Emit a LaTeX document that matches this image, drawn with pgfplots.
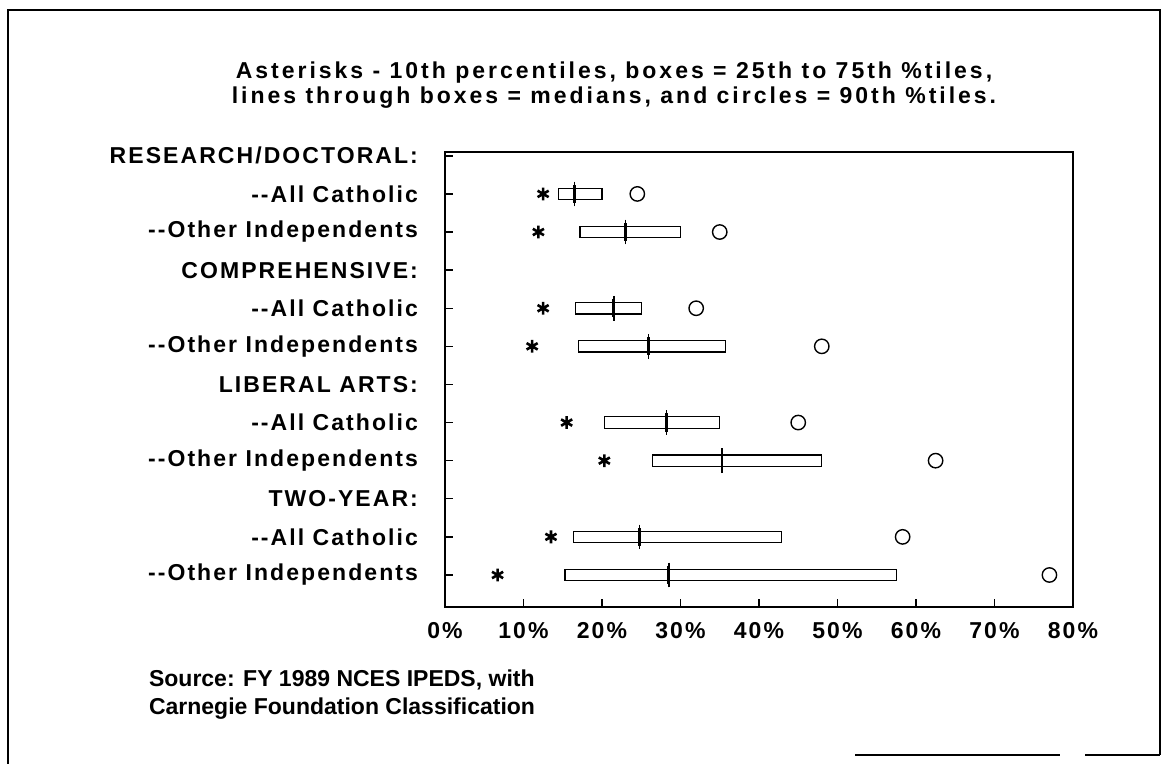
\documentclass[border=0pt]{standalone}
\usepackage{pgfplots}
\pgfplotsset{compat=1.18}
\usepgfplotslibrary{statistics}
\usepackage{pgfplotstable}
\usepackage{fontspec}
\setmainfont{Liberation Sans}
\newfontfamily\lblfont[LetterSpace=9]{Liberation Sans}
\newfontfamily\ttlfont[LetterSpace=13]{Liberation Sans}

% rows: 11 = top (RESEARCH/DOCTORAL:) ... 0 = bottom
\pgfplotstableread{
y   p10  q1   med  q3   p90
10  12.5 14.5 16.5 20.0 24.5
9   11.9 17.2 23.0 30.0 35.0
7   12.5 16.6 21.5 25.0 32.0
6   11.1 17.0 25.9 35.7 48.0
4   15.5 20.3 28.2 35.0 45.0
3   20.3 26.4 35.3 48.0 62.5
1   13.5 16.4 24.8 42.9 58.3
0    6.7 15.3 28.5 57.5 77.0
}\stats

\newcommand{\lbl}{\lblfont\bfseries\fontsize{11.5}{14}\selectfont}
\newcommand{\ttl}{\ttlfont\bfseries\fontsize{11.5}{12.5}\selectfont}
\newcommand{\src}{\bfseries\fontsize{11.5}{14}\selectfont}

\begin{document}
\begin{tikzpicture}
\begin{axis}[
    scale only axis,
    width=314pt, height=227.5pt,
    xmin=0, xmax=80,
    ymin=-0.84, ymax=11.1,
    xtick={0,10,...,80},
    xticklabel={\pgfmathprintnumber{\tick}\%},
    ytick={0,...,11},
    yticklabels={-{}-Other Independents, -{}-All Catholic, TWO-YEAR:,
                 -{}-Other Independents, -{}-All Catholic, LIBERAL ARTS:,
                 -{}-Other Independents, -{}-All Catholic, COMPREHENSIVE:,
                 -{}-Other Independents, -{}-All Catholic, RESEARCH/DOCTORAL:},
    xtick pos=bottom, ytick pos=left,
    tick align=inside,
    major tick length=4pt,
    tick style={black, line width=0.7pt},
    axis line style={line width=0.7pt},
    ticklabel style={font=\lbl},
    xticklabel style={yshift=-4pt},
    yticklabel style={xshift=-10pt},
    /pgf/number format/assume math mode=true,
    boxplot/draw direction=x,
    boxplot/box extend=0.3,
    boxplot/whisker extend=0,
    boxplot/every whisker/.style={draw=none},
    boxplot/every median/.style={draw=none},
]
% boxes (25th to 75th percentiles)
\pgfplotsinvokeforeach{0,...,7}{
  \pgfplotstablegetelem{#1}{y}\of\stats \let\yy\pgfplotsretval
  \pgfplotstablegetelem{#1}{q1}\of\stats \let\qa\pgfplotsretval
  \pgfplotstablegetelem{#1}{med}\of\stats \let\md\pgfplotsretval
  \pgfplotstablegetelem{#1}{q3}\of\stats \let\qb\pgfplotsretval
  \edef\tmp{\noexpand\addplot[black, line width=0.6pt, solid,
    boxplot prepared={draw position=\yy, lower whisker=\qa,
      lower quartile=\qa, median=\md, upper quartile=\qb,
      upper whisker=\qb}] coordinates {};}
  \tmp
}
% medians
\addplot[draw=none, mark=none,
  error bars/.cd, y dir=both, y fixed=0.24,
  error mark=-, error mark options={draw=black, mark size=1.6pt, line width=0.8pt},
  error bar style={draw=black, line width=1.4pt}]
  table[x=med, y=y] {\stats};
% 10th percentiles
\addplot[black, only marks, mark=asterisk, mark size=3.2pt,
  mark options={line width=1.3pt}] table[x=p10, y=y] {\stats};
% 90th percentiles
\addplot[black, only marks, mark=o, mark size=3.6pt,
  mark options={line width=0.7pt}] table[x=p90, y=y] {\stats};
\end{axis}

% page size and scanned frame
\path (-222.5pt,-78.5pt) rectangle (361.5pt,303.5pt);
\draw[line width=0.9pt] (-218.5pt,-78.5pt) -- (-218.5pt,298.5pt) -- (357.5pt,298.5pt) -- (357.5pt,-74pt);
\draw[line width=0.9pt] (205pt,-74pt) -- (307.5pt,-74pt);
\draw[line width=0.9pt] (320pt,-74pt) -- (357.5pt,-74pt);

\node[font=\ttl, align=center] at (84.5pt,261pt)
  {Asterisks - 10th percentiles, boxes = 25th to 75th \%tiles,\\
   lines through boxes = medians, and circles = 90th \%tiles.};
\node[font=\src, align=left, anchor=west] at (-151.5pt,-44pt)
  {Source: FY 1989 NCES IPEDS, with\\
   Carnegie Foundation Classification};
\end{tikzpicture}
\end{document}
